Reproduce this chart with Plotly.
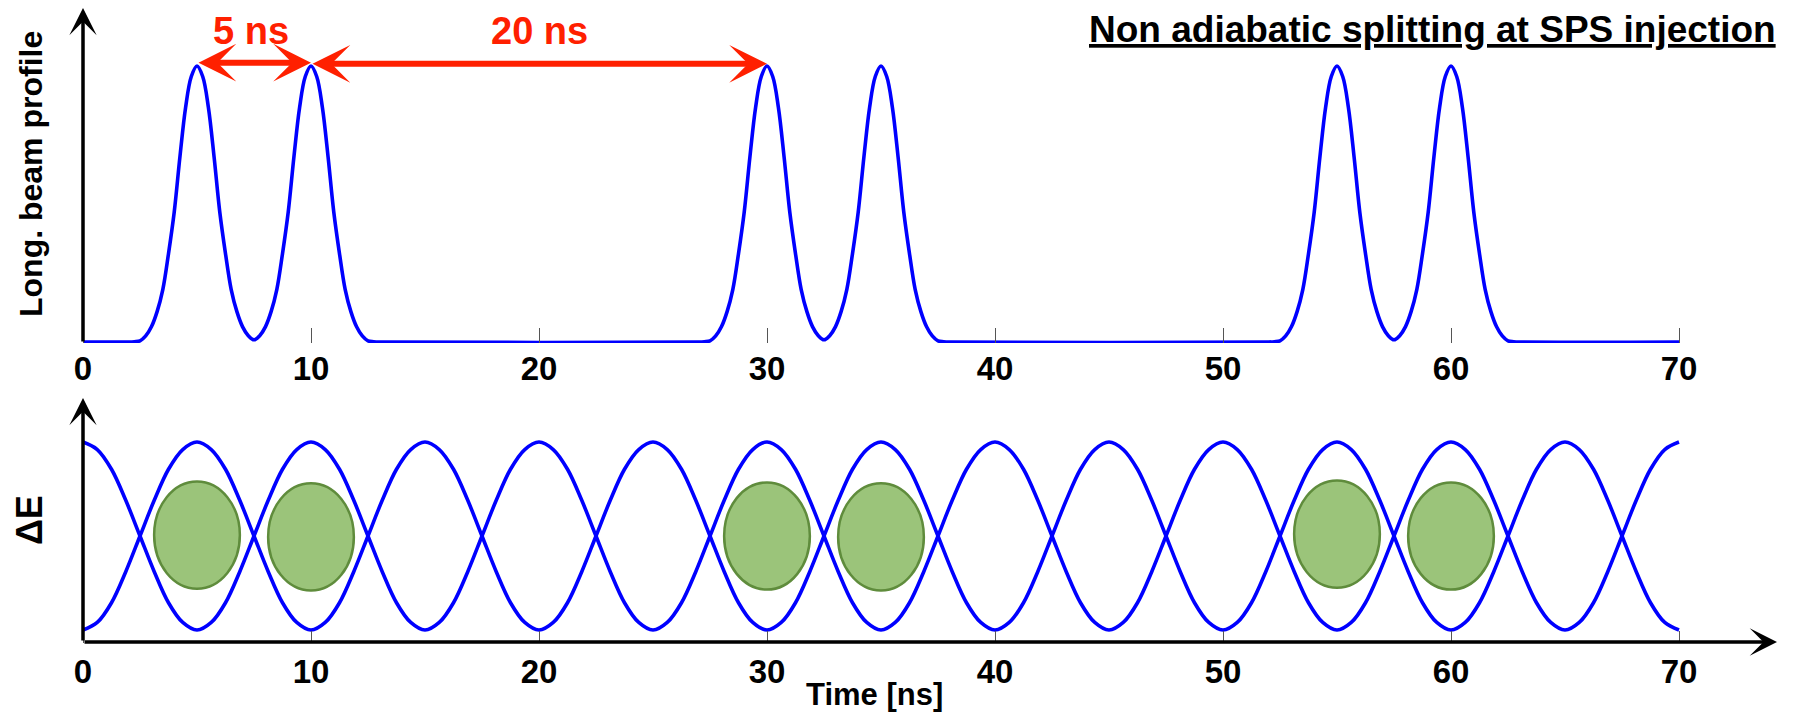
import numpy as np
import plotly.graph_objects as go

# ---------------- data ----------------
bunch_centers = [5, 10, 30, 35, 55, 60]          # ns
# one bunch line-density profile, offsets from the bunch centre (ns) and normalised heights
profile_offsets = [-3.0, -2.75, -2.5, -2.25, -2.0, -1.75, -1.5, -1.25, -1.0, -0.75, -0.5, -0.25,
                   0.0, 0.25, 0.5, 0.75, 1.0, 1.25, 1.5, 1.75, 2.0, 2.25, 2.5, 2.75, 3.0]
profile_heights = [0.0, 0.001, 0.004, 0.022, 0.055, 0.11, 0.19, 0.32, 0.47, 0.67, 0.85, 0.962,
                   1.0, 0.962, 0.85, 0.67, 0.47, 0.32, 0.19, 0.11, 0.055, 0.022, 0.004, 0.001, 0.0]
# separatrix (one RF period = 10 ns), read every 0.625 ns
sep_t = [0, 0.625, 1.25, 1.875, 2.5, 3.125, 3.75, 4.375, 5.0,
         5.625, 6.25, 6.875, 7.5, 8.125, 8.75, 9.375]
sep_v = [1.0, 0.92, 0.71, 0.38, 0.0, -0.38, -0.71, -0.92, -1.0,
         -0.92, -0.71, -0.38, 0.0, 0.38, 0.71, 0.92]
sep_period = 10.0
t_start, t_end = 0.0, 70.0
# bunch emittance ellipses in phase space
ellipse_half_width = [1.88, 1.88, 1.88, 1.88, 1.88, 1.88]   # ns
ellipse_half_height = [0.57, 0.57, 0.57, 0.57, 0.57, 0.57]  # in units of the bucket half height
ellipse_center_y = [0.01, -0.01, 0.0, -0.01, 0.02, 0.0]
tick_vals = [0, 10, 20, 30, 40, 50, 60, 70]
tick_text = ["0", "10", "20", "30", "40", "50", "60", "70"]

# ---------------- build curves ----------------
xs = {round(t_start, 4), round(t_end, 4)}
for c in bunch_centers:
    for o in profile_offsets:
        xs.add(round(c + o, 4))
prof_x = np.array(sorted(v for v in xs if t_start <= v <= t_end))
prof_y = np.zeros_like(prof_x)
for c in bunch_centers:
    prof_y += np.interp(prof_x - c, profile_offsets, profile_heights, left=0, right=0)

sep_x = np.arange(t_start, t_end + 1e-9, sep_t[1] - sep_t[0])
sep_up = np.interp(sep_x, sep_t, sep_v, period=sep_period)
sep_dn = -sep_up

BLUE = "#0000FF"
RED = "#FF2000"
FONT = "Liberation Sans, Arial, sans-serif"
W, H = 1793, 718

fig = go.Figure()
fig.add_trace(go.Scatter(x=prof_x, y=prof_y, mode="lines", line=dict(color=BLUE, width=3.6, shape="spline"),
                         xaxis="x", yaxis="y", hoverinfo="skip"))
fig.add_trace(go.Scatter(x=sep_x, y=sep_up, mode="lines", line=dict(color=BLUE, width=3.6, shape="spline"),
                         xaxis="x2", yaxis="y2", hoverinfo="skip"))
fig.add_trace(go.Scatter(x=sep_x, y=sep_dn, mode="lines", line=dict(color=BLUE, width=3.6, shape="spline"),
                         xaxis="x2", yaxis="y2", hoverinfo="skip"))

shapes = []
for c, hw, hh, cy in zip(bunch_centers, ellipse_half_width, ellipse_half_height, ellipse_center_y):
    shapes.append(dict(type="circle", xref="x2", yref="y2", x0=c - hw, x1=c + hw, y0=cy - hh, y1=cy + hh,
                       fillcolor="#9BC47A", line=dict(color="#5F8C3C", width=2.5), layer="above"))

# pixel geometry -> axis ranges
px0, px_per_ns = 83.0, 22.8
x_range = [-px0 / px_per_ns, (W - px0) / px_per_ns]
# top panel: baseline at py 342, peak at py 66
top_unit = 276.0
y1_range = [-(343 - 342) / top_unit, 342 / top_unit]
y1_domain = [1 - 343 / H, 1]
# bottom panel: centre at py 536, 94 px per unit
bot_unit, bot_c = 94.0, 536.0
y2_range = [-(643 - bot_c) / bot_unit, (bot_c - 380) / bot_unit]
y2_domain = [1 - 643 / H, 1 - 380 / H]

tickfont = dict(family=FONT, size=33, color="black", weight="bold")
common_x = dict(range=x_range, domain=[0, 1], showgrid=False, zeroline=False, showline=False,
                tickmode="array", tickvals=tick_vals, ticktext=tick_text, tickfont=tickfont,
                ticks="inside", tickwidth=1, tickcolor="#555555", fixedrange=True)
fig.update_layout(
    width=W, height=H, margin=dict(l=0, r=0, t=0, b=0), autosize=False,
    paper_bgcolor="white", plot_bgcolor="white", showlegend=False,
    xaxis=dict(**common_x, anchor="y", ticklen=15, ticklabelstandoff=3),
    yaxis=dict(range=y1_range, domain=y1_domain, showgrid=False, zeroline=False, showline=False,
               showticklabels=False, ticks="", anchor="x", fixedrange=True),
    xaxis2=dict(**common_x, anchor="y2", ticklen=12, ticklabelstandoff=6),
    yaxis2=dict(range=y2_range, domain=y2_domain, showgrid=False, zeroline=False, showline=False,
                showticklabels=False, ticks="", anchor="x2", fixedrange=True),
    shapes=shapes,
)

ann = []
def arrow(x0, y0, x1, y1, xr, yr, color, width, size, both=False):
    d = dict(x=x1, y=y1, ax=x0, ay=y0, xref=xr, yref=yr, axref=xr, ayref=yr, text="",
             showarrow=True, arrowhead=3, arrowsize=size, arrowwidth=width, arrowcolor=color,
             arrowside="end+start" if both else "end", standoff=0, startstandoff=0)
    if both:
        d.update(startarrowhead=3, startarrowsize=size)
    return d

x_tip = (1777 - px0) / px_per_ns
# axes arrows
ann.append(arrow(0, -0.004, x_tip, -0.004, "x", "y", "black", 3.5, 1.3))
ann.append(arrow(0, -0.004, 0, (342 - 8) / top_unit, "x", "y", "black", 3.5, 1.3))
y_axis2 = -(642 - bot_c) / bot_unit
ann.append(arrow(0, y_axis2, x_tip, y_axis2, "x2", "y2", "black", 3.5, 1.3))
ann.append(arrow(0, y_axis2, 0, (bot_c - 398) / bot_unit, "x2", "y2", "black", 3.5, 1.3))
# spacing arrows
ann.append(arrow(5, 1.012, 10, 1.012, "x", "y", RED, 6, 1.05, both=True))
ann.append(arrow(10, 1.008, 30, 1.008, "x", "y", RED, 6, 1.05, both=True))
ann.append(dict(x=7.35, y=(342 - 31) / top_unit, xref="x", yref="y", text="5 ns", showarrow=False,
                font=dict(family=FONT, size=38, color=RED, weight="bold"), xanchor="center", yanchor="middle"))
ann.append(dict(x=20.0, y=(342 - 31) / top_unit, xref="x", yref="y", text="20 ns", showarrow=False,
                font=dict(family=FONT, size=38, color=RED, weight="bold"), xanchor="center", yanchor="middle"))
# title
ann.append(dict(x=1778 / W, y=1 - 29 / H, xref="paper", yref="paper", xanchor="right", yanchor="middle",
                text="<u>Non adiabatic splitting at SPS injection</u>", showarrow=False,
                font=dict(family=FONT, size=37, color="black", weight="bold")))
# axis titles
ann.append(dict(x=31 / W, y=1 - 174 / H, xref="paper", yref="paper", text="Long. beam profile",
                textangle=-90, showarrow=False, xanchor="center", yanchor="middle",
                font=dict(family=FONT, size=32, color="black", weight="bold")))
ann.append(dict(x=29 / W, y=1 - 520 / H, xref="paper", yref="paper", text="ΔE",
                textangle=-90, showarrow=False, xanchor="center", yanchor="middle",
                font=dict(family=FONT, size=36, color="black", weight="bold")))
ann.append(dict(x=34.7, y=1 - 694 / H, xref="x2", yref="paper", text="Time [ns]", showarrow=False,
                xanchor="center", yanchor="middle",
                font=dict(family=FONT, size=31, color="black", weight="bold")))
fig.update_layout(annotations=ann)

fig.write_html("out.html")
